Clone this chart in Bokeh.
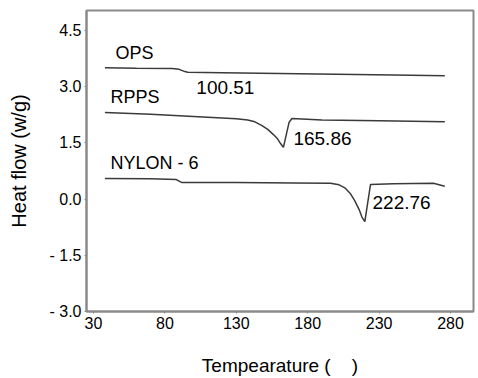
from bokeh.plotting import figure
from bokeh.models import Range1d, FixedTicker
from bokeh.core.properties import value
from bokeh.embed import file_html
from bokeh.resources import INLINE

# ---- data ----
ops_t = [38, 60, 85, 90, 94, 96, 120, 160, 200, 240, 276]
ops_v = [3.50, 3.49, 3.48, 3.46, 3.40, 3.38, 3.37, 3.35, 3.33, 3.31, 3.29]

rpps_t = [38, 70, 100, 130, 138, 143, 148, 152, 156, 159, 161, 163, 165, 167, 169, 190, 230, 276]
rpps_v = [2.31, 2.26, 2.20, 2.14, 2.11, 2.06, 1.96, 1.86, 1.72, 1.60, 1.48, 1.38, 1.72, 2.05, 2.15, 2.11, 2.09, 2.06]

nylon_t = [38, 70, 88, 92, 130, 170, 196, 202, 206, 210, 213, 216, 218, 220, 222, 224, 240, 268, 276]
nylon_v = [0.55, 0.54, 0.52, 0.44, 0.44, 0.43, 0.42, 0.38, 0.30, 0.14, -0.05, -0.28, -0.48, -0.60, -0.10, 0.39, 0.41, 0.42, 0.34]

label_texts = ["OPS", "RPPS", "NYLON - 6"]
label_t = [45.4, 41.9, 41.9]
label_v = [3.89, 2.71, 0.95]

peak_texts = ["100.51", "165.86", "222.76"]
peak_t = [102, 170, 225.4]
peak_v = [2.98, 1.62, -0.09]

x_ticks = [30, 80, 130, 180, 230, 280]
y_ticks = [-3.0, -1.5, 0.0, 1.5, 3.0, 4.5]
y_tick_labels = ["- 3.0", "- 1.5", "0.0", "1.5", "3.0", "4.5"]

FONT = "Liberation Sans"
NB = "\u00a0"

p = figure(width=478, height=378, output_backend="svg", toolbar_location=None,
           x_range=Range1d(25.1, 296.1), y_range=Range1d(-3.0, 5.03),
           min_border_left=86, min_border_right=5, min_border_top=10, min_border_bottom=67)

p.background_fill_color = "white"
p.border_fill_color = "white"
p.grid.visible = False
p.outline_line_color = "#8a8a8a"
p.outline_line_width = 2

line_color = "#3a3a3a"
p.line(ops_t, ops_v, line_color=line_color, line_width=1.5)
p.line(rpps_t, rpps_v, line_color=line_color, line_width=1.5)
p.line(nylon_t, nylon_v, line_color=line_color, line_width=1.5)

p.text(x=label_t, y=label_v, text=label_texts, text_font=value(FONT),
       text_font_size="18px", text_color="black", text_align="left", text_baseline="middle")
p.text(x=peak_t, y=peak_v, text=peak_texts, text_font=value(FONT),
       text_font_size="19px", text_color="black", text_align="left", text_baseline="middle")

# x axis
xa = p.xaxis[0]
xa.ticker = FixedTicker(ticks=x_ticks)
xa.minor_tick_line_color = None
xa.major_tick_in = 0
xa.major_tick_out = 2
xa.major_tick_line_color = "#888888"
xa.axis_line_color = "#8a8a8a"
xa.axis_line_width = 2
xa.major_label_text_font = FONT
xa.major_label_text_font_size = "16px"
xa.major_label_text_color = "black"
xa.major_label_standoff = 3
xa.axis_label = "Tempearature (" + NB * 4 + ")"
xa.axis_label_text_font = FONT
xa.axis_label_text_font_size = "19px"
xa.axis_label_text_font_style = "normal"
xa.axis_label_text_color = "black"
xa.axis_label_standoff = 23

# y axis
ya = p.yaxis[0]
ya.ticker = FixedTicker(ticks=y_ticks)
ya.major_label_overrides = {t: s for t, s in zip(y_ticks, y_tick_labels)}
ya.minor_tick_line_color = None
ya.major_tick_in = 0
ya.major_tick_out = 2
ya.major_tick_line_color = "#888888"
ya.axis_line_color = "#8a8a8a"
ya.axis_line_width = 2
ya.major_label_text_font = FONT
ya.major_label_text_font_size = "16px"
ya.major_label_text_color = "black"
ya.major_label_standoff = 3
ya.axis_label = "Heat flow (w/g)"
ya.axis_label_text_font = FONT
ya.axis_label_text_font_size = "20px"
ya.axis_label_text_font_style = "normal"
ya.axis_label_text_color = "black"
ya.axis_label_standoff = 16

html = file_html(p, INLINE)
open("out.html", "w").write(html)
